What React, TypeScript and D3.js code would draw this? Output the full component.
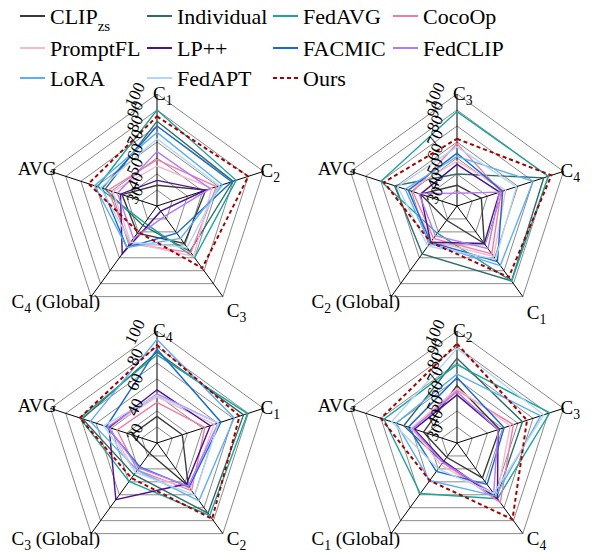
import React from "react";
import * as d3 from "d3";

const seriesNames = ["CLIP|zs", "Individual", "FedAVG", "CocoOp", "PromptFL", "LP++", "FACMIC", "FedCLIP", "LoRA", "FedAPT", "Ours"];
const seriesColors = ["#3a3a3a", "#2f6e68", "#1fa39c", "#f27ba5", "#f7b8d0", "#4a148c", "#1769d6", "#b57af7", "#5eaef5", "#b3d5f7", "#a50000"];

const panel1Axes = ["C_1", "C_2", "C_3", "C_4 (Global)", "AVG"];
const panel2Axes = ["C_3", "C_4", "C_1", "C_2 (Global)", "AVG"];
const panel3Axes = ["C_4", "C_1", "C_2", "C_3 (Global)", "AVG"];
const panel4Axes = ["C_2", "C_3", "C_4", "C_1 (Global)", "AVG"];

const panel1Ticks = [30, 40, 50, 60, 70, 80, 90, 100];
const panel2Ticks = [30, 40, 50, 60, 70, 80, 90, 100];
const panel3Ticks = [20, 40, 60, 80, 100];
const panel4Ticks = [30, 40, 50, 60, 70, 80, 90, 100];

// rows: series in seriesNames order; columns: axes in panel order
const panel1Values = [
  [43, 62, 59, 51, 53],
  [83, 80, 65, 45, 64],
  [90, 82, 70, 43, 69],
  [59, 69, 66, 59, 62],
  [55, 66, 69, 58, 59],
  [46, 62, 34, 67, 54],
  [80, 79, 51, 62, 66],
  [64, 65, 38, 55, 56],
  [76, 73, 55, 62, 71],
  [72, 71, 62, 58, 67],
  [86, 90, 78, 50, 75],
];
const panel2Values = [
  [43, 46, 59, 41, 54],
  [50, 87, 88, 67, 71],
  [89, 90, 88, 51, 80],
  [69, 59, 67, 55, 59],
  [58, 62, 69, 57, 62],
  [56, 58, 59, 58, 54],
  [63, 60, 73, 58, 62],
  [38, 58, 63, 53, 55],
  [61, 80, 76, 59, 64],
  [67, 69, 71, 61, 69],
  [72, 92, 85, 58, 78],
];
const panel3Values = [
  [39, 39, 58, 29, 39],
  [85, 85, 82, 48, 76],
  [83, 88, 84, 54, 78],
  [49, 56, 62, 44, 50],
  [53, 63, 60, 46, 56],
  [58, 60, 56, 70, 56],
  [87, 68, 59, 41, 58],
  [55, 66, 58, 42, 57],
  [94, 78, 71, 44, 70],
  [54, 66, 66, 46, 60],
  [90, 82, 87, 51, 78],
];
const panel4Values = [
  [66, 58, 57, 41, 52],
  [83, 73, 72, 45, 65],
  [79, 91, 73, 69, 78],
  [63, 67, 76, 45, 59],
  [64, 65, 72, 47, 60],
  [60, 57, 73, 44, 58],
  [71, 61, 62, 52, 62],
  [62, 57, 69, 45, 59],
  [73, 85, 71, 59, 70],
  [89, 87, 69, 50, 73],
  [92, 76, 89, 59, 80],
];

const FONT = "'Liberation Serif', 'Times New Roman', serif";
const R = 112;
const RINGS = 7;

type PanelSpec = {
  cx: number;
  cy: number;
  axes: string[];
  ticks: number[];
  values: number[][];
  lowRightDy: number;
};

const panels: PanelSpec[] = [
  { cx: 157, cy: 206, axes: panel1Axes, ticks: panel1Ticks, values: panel1Values, lowRightDy: 20 },
  { cx: 457, cy: 206, axes: panel2Axes, ticks: panel2Ticks, values: panel2Values, lowRightDy: 22 },
  { cx: 157, cy: 443, axes: panel3Axes, ticks: panel3Ticks, values: panel3Values, lowRightDy: 11 },
  { cx: 457, cy: 443, axes: panel4Axes, ticks: panel4Ticks, values: panel4Values, lowRightDy: 11 },
];

function AxisLabel({ text, x, y, anchor, size }: { text: string; x: number; y: number; anchor: string; size: number }) {
  const m = text.match(/^C_(\d)(.*)$/);
  if (!m) {
    return (
      <text x={x} y={y} textAnchor={anchor} fontSize={size} fontFamily={FONT}>
        {text}
      </text>
    );
  }
  return (
    <text x={x} y={y} textAnchor={anchor} fontSize={size} fontFamily={FONT}>
      C
      <tspan dy={5} fontSize={size * 0.72}>{m[1]}</tspan>
      <tspan dy={-5}>{m[2]}</tspan>
    </text>
  );
}

function Panel({ spec }: { spec: PanelSpec }) {
  const { cx, cy, axes, ticks, values, lowRightDy } = spec;
  const n = axes.length;
  const angle = (i: number) => -Math.PI / 2 + (i * 2 * Math.PI) / n;
  const domainMin = ticks[0] === 20 ? 20 : 30;
  const r = d3.scaleLinear().domain([domainMin, 100]).range([0, R]);
  const pt = (i: number, rad: number): [number, number] => [cx + rad * Math.cos(angle(i)), cy + rad * Math.sin(angle(i))];
  const line = d3.line<[number, number]>().curve(d3.curveLinearClosed);

  const rings = d3.range(1, RINGS + 1).map((k) => line(d3.range(n).map((i) => pt(i, (R * k) / RINGS))));

  const labelPos = [
    { dx: -4, dy: 6, anchor: "start" },
    { dx: -3, dy: 6, anchor: "start" },
    { dx: 4, dy: lowRightDy, anchor: "start" },
    { dx: 9, dy: 11, anchor: "end" },
    { dx: 6, dy: 4, anchor: "end" },
  ];

  return (
    <g>
      {rings.map((d, k) => (
        <path key={k} d={d || ""} fill="none" stroke="#8a8a8a" strokeWidth={1} />
      ))}
      {d3.range(n).map((i) => {
        const [x, y] = pt(i, R);
        return <line key={i} x1={cx} y1={cy} x2={x} y2={y} stroke="#000" strokeWidth={1} />;
      })}
      {values.map((row, s) => {
        const d = line(row.map((v, i) => pt(i, r(v))));
        const isOurs = s === values.length - 1;
        return (
          <path
            key={s}
            d={d || ""}
            fill="none"
            stroke={seriesColors[s]}
            strokeWidth={isOurs ? 2 : 1.4}
            strokeDasharray={isOurs ? "4 3" : undefined}
          />
        );
      })}
      {ticks.map((t, k) => {
        const frac = (t - domainMin) / (100 - domainMin);
        const y = cy - 11 - frac * (R - 12);
        const x = cx - 22;
        return (
          <text
            key={k}
            x={x}
            y={y}
            textAnchor="middle"
            dominantBaseline="central"
            fontSize={17}
            fontFamily={FONT}
            transform={`rotate(-64 ${x} ${y})`}
          >
            {t}
          </text>
        );
      })}
      {axes.map((a, i) => {
        const [x, y] = pt(i, R);
        const p = labelPos[i];
        return <AxisLabel key={i} text={a} x={x + p.dx} y={y + p.dy} anchor={p.anchor} size={19} />;
      })}
    </g>
  );
}

function Legend() {
  const colX = [20, 147, 273, 393];
  const rowY = [16, 48, 78];
  return (
    <g>
      {seriesNames.map((name, i) => {
        const col = i % 4;
        const row = Math.floor(i / 4);
        const x = colX[col];
        const y = rowY[row];
        const isOurs = i === seriesNames.length - 1;
        const parts = name.split("|");
        return (
          <g key={i}>
            <line
              x1={x}
              x2={x + 25}
              y1={y}
              y2={y}
              stroke={seriesColors[i]}
              strokeWidth={2}
              strokeDasharray={isOurs ? "4 3" : undefined}
            />
            <text x={x + 30} y={y + 8} fontSize={22} fontFamily={FONT}>
              {parts[0]}
              {parts[1] ? (
                <tspan dy={7} fontSize={15}>
                  {parts[1]}
                </tspan>
              ) : null}
            </text>
          </g>
        );
      })}
    </g>
  );
}

export default function App() {
  return (
    <svg
      width={596}
      height={554}
      viewBox="0 0 596 554"
      style={{ position: "absolute", left: 0, top: 0, background: "#fff" }}
    >
      <rect width={596} height={554} fill="#fff" />
      {panels.map((p, i) => (
        <Panel key={i} spec={p} />
      ))}
      <Legend />
    </svg>
  );
}
